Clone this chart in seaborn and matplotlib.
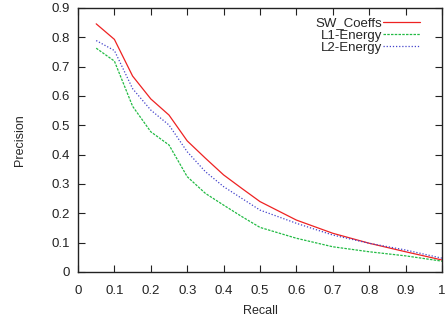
import numpy as np
import pandas as pd
import seaborn as sns
import matplotlib.pyplot as plt

recall = [0.05, 0.1, 0.15, 0.2, 0.25, 0.3, 0.35, 0.4, 0.45, 0.5,
          0.6, 0.7, 0.8, 0.9, 1.0]
sw_coeffs = [0.846, 0.793, 0.668, 0.59, 0.535, 0.447, 0.388, 0.331, 0.285, 0.24,
             0.177, 0.132, 0.098, 0.069, 0.041]
l1_energy = [0.763, 0.719, 0.565, 0.478, 0.433, 0.325, 0.268, 0.228, 0.189, 0.152,
             0.115, 0.086, 0.069, 0.055, 0.037]
l2_energy = [0.789, 0.755, 0.625, 0.552, 0.501, 0.41, 0.342, 0.291, 0.251, 0.211,
             0.166, 0.126, 0.098, 0.075, 0.047]

series = {'SW_Coeffs': sw_coeffs, 'L1-Energy': l1_energy, 'L2-Energy': l2_energy}
colors = {'SW_Coeffs': '#ee2222', 'L1-Energy': '#22bb44', 'L2-Energy': '#4444cc'}
dashes = {'SW_Coeffs': (None, None), 'L1-Energy': (2, 1), 'L2-Energy': (1, 1.5)}

sns.set_style("ticks")
plt.rcParams['font.family'] = ['Liberation Sans', 'DejaVu Sans']

fig = plt.figure(figsize=(4.47, 3.2), dpi=100)
ax = fig.add_axes([78/447, 48/320, 364/447, 264/320])

for name, vals in series.items():
    df = pd.DataFrame({'Recall': recall, 'Precision': vals})
    sns.lineplot(data=df, x='Recall', y='Precision', ax=ax, color=colors[name],
                 linewidth=0.9, label=name)
    if dashes[name][0] is not None:
        ax.lines[-1].set_dashes(dashes[name])

ax.set_xlim(0, 1)
ax.set_ylim(0, 0.9)
ax.set_xticks(np.arange(0, 1.01, 0.1))
ax.set_xticklabels(['0', '0.1', '0.2', '0.3', '0.4', '0.5', '0.6', '0.7', '0.8', '0.9', '1'])
ax.set_yticks(np.arange(0, 0.91, 0.1))
ax.set_yticklabels(['0', '0.1', '0.2', '0.3', '0.4', '0.5', '0.6', '0.7', '0.8', '0.9'])
ax.tick_params(direction='in', length=5, width=0.8, top=True, right=True,
               labelsize=9.5, colors='#222222')
ax.tick_params(axis='x', pad=9)
ax.tick_params(axis='y', pad=6)
for s in ax.spines.values():
    s.set_linewidth(1.0)
    s.set_color('#222222')
ax.set_xlabel('Recall', fontsize=9, labelpad=6)
ax.set_ylabel('Precision', fontsize=9, labelpad=18)

ax.legend(loc='upper right', bbox_to_anchor=(0.965, 1.0), frameon=False, markerfirst=False,
          fontsize=9.5, handlelength=2.8, handletextpad=0.1, labelspacing=0.0,
          borderaxespad=0.3)

fig.savefig('out.png', dpi=100)
